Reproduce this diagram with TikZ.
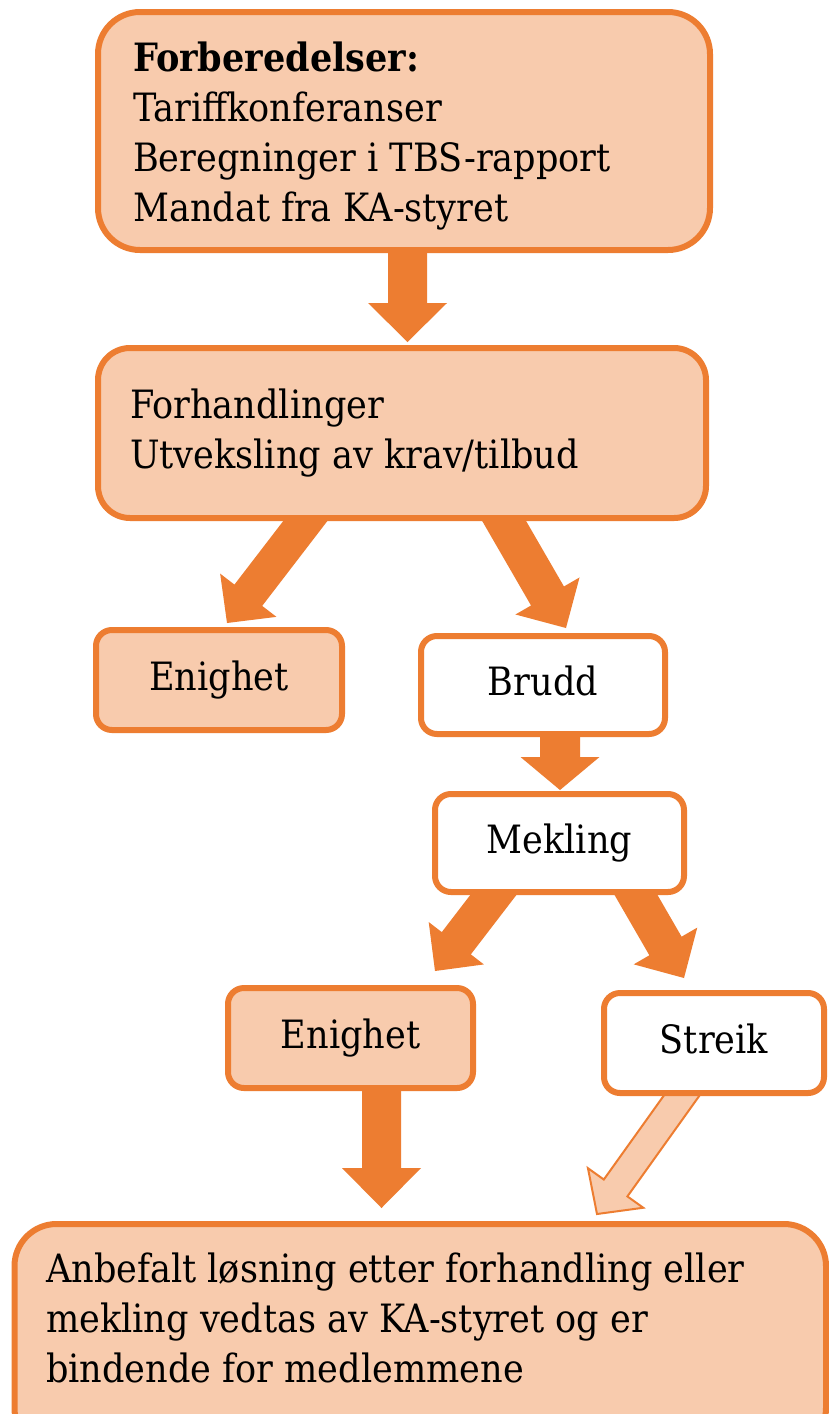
\documentclass[tikz,border=0pt]{standalone}
\usepackage{fontspec}
\setmainfont{DejaVu Serif Condensed}
\usetikzlibrary{calc,backgrounds}
\definecolor{korange}{HTML}{ED7D31}
\definecolor{kpeach}{HTML}{F8CBAD}
% #1 style, #2 start, #3 tip, #4 shaft half width, #5 head half width, #6 head length
\newcommand\blockarrow[6]{%
  \coordinate (ba-s) at #2;
  \coordinate (ba-t) at #3;
  \coordinate (ba-h) at ($(ba-t)!#6!(ba-s)$);
  \path[#1] ($(ba-s)!#4!90:(ba-t)$) -- ($(ba-h)!#4!90:(ba-t)$) -- ($(ba-h)!#5!90:(ba-t)$)
    -- (ba-t) -- ($(ba-h)!#5!-90:(ba-t)$) -- ($(ba-h)!#4!-90:(ba-t)$) -- ($(ba-s)!#4!-90:(ba-t)$) -- cycle;
}
\newcommand\textlines[1]{\vtop{\baselineskip=50pt\lineskiplimit=-100pt\lineskip=0pt #1}}
\begin{document}
\begin{tikzpicture}[x=1pt,y=1pt,
  box/.style={draw=korange, line width=6pt, outer sep=0pt, inner sep=0pt,
    text height=20pt, text depth=0pt, rounded corners=16pt, font=\fontsize{39}{50}\selectfont},
  pbox/.style={box, fill=kpeach},
  wbox/.style={box, fill=white},
  txt/.style={anchor=base west, inner sep=0pt, font=\fontsize{39}{50}\selectfont},
  darrow/.style={fill=korange},
  larrow/.style={fill=kpeach, draw=korange, line width=2pt, line join=miter}]
\useasboundingbox (0,0) rectangle (829,-1414);
\clip (0,0) rectangle (829,-1414);

\node[pbox, rounded corners=42pt, minimum width=612pt, minimum height=238pt] (b1) at (404,-131) {};
\node[pbox, rounded corners=32pt, minimum width=608pt, minimum height=170pt] (b2) at (402,-433) {};
\node[pbox, minimum width=246pt, minimum height=100pt] (e1) at (219,-680) {Enighet};
\node[wbox, minimum width=244pt, minimum height=98pt] (br) at (543,-685) {Brudd};
\node[wbox, minimum width=249pt, minimum height=98pt] (mk) at (559.5,-843) {Mekling};
\node[pbox, minimum width=245pt, minimum height=100pt] (e2) at (350.5,-1038) {Enighet};
\node[wbox, minimum width=220pt, minimum height=100pt] (st) at (714,-1043) {Streik};
\node[pbox, rounded corners=42pt, minimum width=811.5pt, minimum height=226pt] (bt) at (420.25,-1337) {};

\node[txt] (b1t) at (133,-71) {\textlines{\hbox{\bfseries Forberedelser:}\hbox{Tariffkonferanser}\hbox{Beregninger i TBS-rapport}\hbox{Mandat fra KA-styret}}};
\node[txt] (b2t) at (130,-418) {\textlines{\hbox{Forhandlinger}\hbox{Utveksling av krav/tilbud}}};
\node[txt] (btt) at (46,-1282) {\textlines{\hbox{Anbefalt løsning etter forhandling eller}\hbox{mekling vedtas av KA-styret og er}\hbox{bindende for medlemmene}}};

\begin{scope}[on background layer]
\fill[white] (0,0) rectangle (829,-1414);
\blockarrow{darrow}{([xshift=3.5pt,yshift=10pt]b1.south)}{([xshift=5.5pt,yshift=6pt]b2.north)}{19.5pt}{39.5pt}{39pt}
\blockarrow{darrow}{([xshift=-84.4pt,yshift=13pt]b2.south)}{([xshift=8pt,yshift=7pt]e1.north)}{17.5pt}{35.5pt}{35pt}
\blockarrow{darrow}{([xshift=92.9pt,yshift=13pt]b2.south)}{([xshift=23pt,yshift=8pt]br.north)}{19pt}{37pt}{37pt}
\blockarrow{darrow}{([xshift=17pt,yshift=9pt]br.south)}{([xshift=0.5pt,yshift=4pt]mk.north)}{20pt}{39.5pt}{33pt}
\blockarrow{darrow}{([xshift=-56.2pt,yshift=10pt]mk.south)}{([xshift=84.5pt,yshift=17pt]e2.north)}{18.3pt}{34.8pt}{35pt}
\blockarrow{darrow}{([xshift=69pt,yshift=10pt]mk.south)}{([xshift=-30pt,yshift=15pt]st.north)}{18.6pt}{36.7pt}{37pt}
\blockarrow{darrow}{([xshift=31pt,yshift=10pt]e2.south)}{([xshift=-38.75pt,yshift=16pt]bt.north)}{19.5pt}{39.5pt}{40pt}
\blockarrow{larrow}{([xshift=-24.8pt,yshift=8pt]st.south)}{([xshift=176.75pt,yshift=10pt]bt.north)}{14.5pt}{34pt}{32pt}
\end{scope}
\end{tikzpicture}
\end{document}
